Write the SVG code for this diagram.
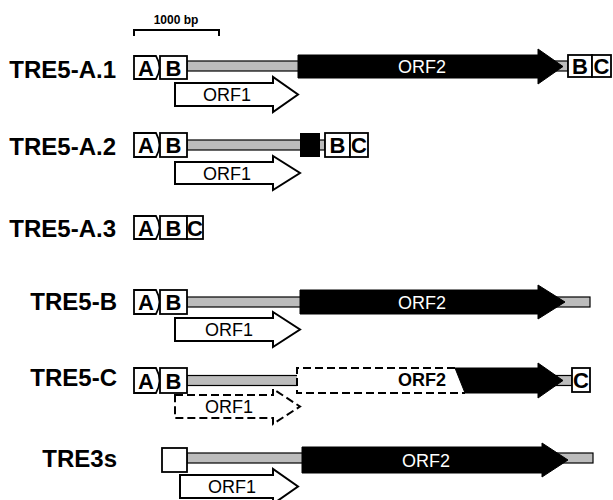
<svg xmlns="http://www.w3.org/2000/svg" width="613" height="500" viewBox="0 0 613 500">
<style>
.lbl{font-family:"Liberation Sans",Arial,sans-serif;font-weight:bold;font-size:24px;text-anchor:end;fill:#000}
.box{fill:#fff;stroke:#000;stroke-width:1.8}
.bt{font-family:"Liberation Sans",Arial,sans-serif;font-weight:bold;font-size:22px;text-anchor:middle;fill:#000}
.bar{fill:#bcbcbc;stroke:#000;stroke-width:1.2}
.orf2{fill:#000;stroke:#000;stroke-width:1}
.orf1{fill:#fff;stroke:#000;stroke-width:2}
.dash{fill:none;stroke:#000;stroke-width:2;stroke-dasharray:8 4}
.ot{font-family:"Liberation Sans",Arial,sans-serif;font-size:18px;text-anchor:middle;fill:#000}
.ow{font-family:"Liberation Sans",Arial,sans-serif;font-size:18px;text-anchor:middle;fill:#fff}
.scale{fill:none;stroke:#000;stroke-width:2}
.st{font-family:"Liberation Sans",Arial,sans-serif;font-weight:bold;font-size:12px;text-anchor:middle;fill:#000}
</style>

<g id="scalebar">
<path class="scale" d="M134,36 V30 H219 V36"/>
<text class="st" x="176" y="24">1000 bp</text>
</g>

<g id="tre5-a1">
<text class="lbl" x="116" y="78">TRE5-A.1</text>
<rect class="bar" x="187" y="61" width="381" height="10"/>
<path class="orf2" d="M298,55 H538 V49 L563,66.5 L538,84 V78 H298 Z"/>
<text class="ow" x="422" y="73">ORF2</text>
<path class="box" d="M134,56 H156 Q163,67.5 156,79 H134 Z"/>
<text class="bt" x="146" y="75.5">A</text>
<rect class="box" x="160" y="56" width="27" height="23"/>
<text class="bt" x="173.5" y="75.5">B</text>
<rect class="box" x="568" y="55" width="24" height="22"/>
<text class="bt" x="580" y="74">B</text>
<rect class="box" x="592" y="55" width="19" height="22"/>
<text class="bt" x="601.5" y="74">C</text>
<path class="orf1" d="M175,83 H273 V77 L298,94.5 L273,112 V106 H175 Z"/>
<text class="ot" x="227" y="101">ORF1</text>
</g>

<g id="tre5-a2">
<text class="lbl" x="116" y="155">TRE5-A.2</text>
<rect class="bar" x="187" y="140" width="138" height="10"/>
<rect x="300" y="133" width="20" height="24" fill="#000"/>
<path class="box" d="M134,133 H156 Q163,145 156,157 H134 Z"/>
<text class="bt" x="146" y="153">A</text>
<rect class="box" x="160" y="133" width="27" height="24"/>
<text class="bt" x="173.5" y="153">B</text>
<rect class="box" x="325" y="133" width="25" height="24"/>
<text class="bt" x="337.5" y="153">B</text>
<rect class="box" x="350" y="133" width="18" height="24"/>
<text class="bt" x="359" y="153">C</text>
<path class="orf1" d="M175,162 H273 V156 L300,173 L273,190 V184 H175 Z"/>
<text class="ot" x="227" y="180">ORF1</text>
</g>

<g id="tre5-a3">
<text class="lbl" x="116" y="237">TRE5-A.3</text>
<path class="box" d="M134,216 H156 Q163,227.5 156,239 H134 Z"/>
<text class="bt" x="146" y="235.5">A</text>
<rect class="box" x="160" y="216" width="27" height="23"/>
<text class="bt" x="173.5" y="235.5">B</text>
<rect class="box" x="187" y="216" width="16" height="23"/>
<text class="bt" x="195" y="235.5">C</text>
</g>

<g id="tre5-b">
<text class="lbl" x="117" y="310">TRE5-B</text>
<rect class="bar" x="187" y="297" width="403" height="10"/>
<path class="orf2" d="M300,290 H538 V285 L565,302 L538,319 V314 H300 Z"/>
<text class="ow" x="422" y="309">ORF2</text>
<path class="box" d="M134,290 H156 Q163,302 156,314 H134 Z"/>
<text class="bt" x="146" y="310">A</text>
<rect class="box" x="160" y="290" width="27" height="24"/>
<text class="bt" x="173.5" y="310">B</text>
<path class="orf1" d="M175,318 H273 V312 L300,329.5 L273,347 V341 H175 Z"/>
<text class="ot" x="229" y="336">ORF1</text>
</g>

<g id="tre5-c">
<text class="lbl" x="117" y="386">TRE5-C</text>
<rect class="bar" x="187" y="375.5" width="385" height="10"/>
<rect x="297" y="368" width="166" height="25" fill="#fff"/>
<path class="dash" d="M455,368 H297 V393 H465"/>
<path class="orf2" d="M455,368 H538 V363 L563,380.5 L538,398 V393 H465 Z"/>
<text class="ot" x="422" y="386" font-weight="bold">ORF2</text>
<path class="box" d="M134,368 H156 Q163,380.5 156,393 H134 Z"/>
<text class="bt" x="146" y="388.5">A</text>
<rect class="box" x="160" y="368" width="27" height="25"/>
<text class="bt" x="173.5" y="388.5">B</text>
<rect class="box" x="572" y="368" width="18" height="24"/>
<text class="bt" x="581" y="388">C</text>
<path class="dash" d="M175,395 H273 V389 L300,406.5 L273,424 V418 H175 Z"/>
<text class="ot" x="229" y="413">ORF1</text>
</g>

<g id="tre3s">
<text class="lbl" x="117" y="467">TRE3s</text>
<rect class="bar" x="187" y="453" width="406" height="10"/>
<path class="orf2" d="M302,447 H542 V443 L568,460 L542,477 V473 H302 Z"/>
<text class="ow" x="426" y="467">ORF2</text>
<rect class="box" x="162" y="448" width="25" height="24"/>
<path class="orf1" d="M180,475 H273 V469 L298,486.5 L273,504 V498 H180 Z"/>
<text class="ot" x="232" y="493">ORF1</text>
</g>

<g id="connectors"></g>
</svg>
